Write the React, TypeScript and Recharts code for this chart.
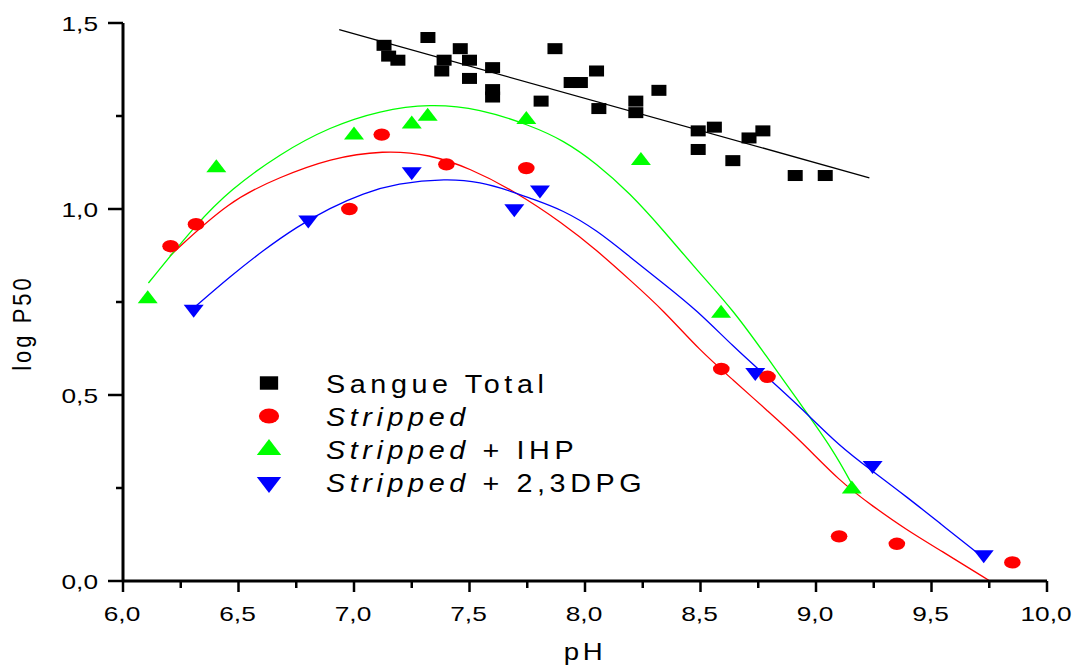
import { ComposedChart, Line, Scatter, XAxis, YAxis } from 'recharts'

// measured points
const sangueX = [7.13, 7.15, 7.19, 7.32, 7.39, 7.38, 7.46, 7.5, 7.5, 7.6, 7.6, 7.6, 7.81, 7.87, 7.94, 7.98, 8.05, 8.06, 8.22, 8.22, 8.32, 8.49, 8.49, 8.56, 8.64, 8.71, 8.77, 8.91, 9.04]
const sangueY = [1.44, 1.411, 1.4, 1.461, 1.4, 1.371, 1.431, 1.4, 1.351, 1.38, 1.321, 1.301, 1.29, 1.431, 1.34, 1.34, 1.371, 1.27, 1.29, 1.259, 1.319, 1.21, 1.16, 1.22, 1.13, 1.191, 1.21, 1.09, 1.09]

const strippedX = [6.206, 6.316, 6.98, 7.12, 7.4, 7.746, 8.59, 8.79, 9.1, 9.35, 9.85]
const strippedY = [0.9, 0.959, 1.0, 1.2, 1.12, 1.11, 0.57, 0.549, 0.12, 0.1, 0.05]

const ihpX = [6.107, 6.404, 7.0, 7.25, 7.319, 7.746, 8.242, 8.589, 9.155]
const ihpY = [0.764, 1.116, 1.204, 1.234, 1.255, 1.246, 1.136, 0.725, 0.253]

const dpgX = [6.306, 6.802, 7.25, 7.694, 7.805, 8.737, 9.245, 9.726]
const dpgY = [0.725, 0.965, 1.095, 0.995, 1.046, 0.555, 0.305, 0.065]

// fitted curves
const sangueFitX = [6.936, 9.231]
const sangueFitY = [1.482, 1.084]

const strippedFitX = [6.203, 6.463, 6.68, 6.896, 7.127, 7.329, 7.502, 7.69, 7.906, 8.051, 8.195, 8.339, 8.498, 8.642, 8.787, 8.931, 9.104, 9.248, 9.393, 9.537, 9.753]
const strippedFitY = [0.874, 1.024, 1.086, 1.136, 1.158, 1.147, 1.109, 1.05, 0.961, 0.889, 0.809, 0.728, 0.619, 0.54, 0.459, 0.379, 0.267, 0.2, 0.137, 0.083, 0.0]

const ihpFitX = [6.11, 6.319, 6.463, 6.68, 6.896, 7.113, 7.329, 7.545, 7.762, 7.906, 8.051, 8.195, 8.339, 8.484, 8.642, 8.787, 8.931, 9.075, 9.16]
const ihpFitY = [0.801, 0.961, 1.051, 1.149, 1.221, 1.265, 1.283, 1.27, 1.225, 1.185, 1.122, 1.042, 0.943, 0.836, 0.728, 0.603, 0.477, 0.352, 0.255]

const dpgFitX = [6.312, 6.463, 6.607, 6.752, 6.896, 7.04, 7.185, 7.401, 7.545, 7.69, 7.762, 7.906, 8.051, 8.195, 8.339, 8.484, 8.642, 8.787, 8.931, 9.104, 9.248, 9.393, 9.537, 9.71]
const dpgFitY = [0.737, 0.818, 0.889, 0.952, 1.003, 1.042, 1.069, 1.082, 1.073, 1.046, 1.029, 0.997, 0.943, 0.871, 0.8, 0.728, 0.63, 0.549, 0.468, 0.361, 0.294, 0.226, 0.155, 0.07]

const xTicks = [6, 6.25, 6.5, 6.75, 7, 7.25, 7.5, 7.75, 8, 8.25, 8.5, 8.75, 9, 9.25, 9.5, 9.75, 10]
const yTicks = [0, 0.25, 0.5, 0.75, 1, 1.25, 1.5]

const legendItems = [
  { italic: '', plain: 'Sangue Total', marker: 'square' },
  { italic: 'Stripped', plain: '', marker: 'circle' },
  { italic: 'Stripped', plain: ' + IHP', marker: 'up' },
  { italic: 'Stripped', plain: ' + 2,3DPG', marker: 'down' },
]

const zip = (xs: number[], ys: number[]) => xs.map((x, i) => ({ x, y: ys[i] }))

const FONT = '"Liberation Sans", Arial, sans-serif'

const isMajor = (v: number) => Math.abs(v * 2 - Math.round(v * 2)) < 1e-6
const fmt = (v: number) => v.toFixed(1).replace('.', ',')

function Marker({ kind, cx, cy, s = 1 }: { kind: string; cx: number; cy: number; s?: number }) {
  if (kind === 'square') {
    const w = 15 * s, h = 11 * s
    return <rect x={cx - w / 2} y={cy - h / 2} width={w} height={h} fill="#000" />
  }
  if (kind === 'circle') {
    return <ellipse cx={cx} cy={cy} rx={8.3 * s} ry={6.2 * s} fill="#ff0000" />
  }
  const w = 20 * s, h = 13 * s
  if (kind === 'up') {
    return <polygon points={`${cx - w / 2},${cy + h / 2} ${cx + w / 2},${cy + h / 2} ${cx},${cy - h / 2}`} fill="#00ff00" />
  }
  return <polygon points={`${cx - w / 2},${cy - h / 2} ${cx + w / 2},${cy - h / 2} ${cx},${cy + h / 2}`} fill="#0000ff" />
}

const XTick = ({ x, y, payload }: any) => {
  const major = isMajor(payload.value)
  return (
    <g>
      <line x1={x} y1={y} x2={x} y2={y + (major ? 11 : 7)} stroke="#000" strokeWidth={2.5} />
      {major && (
        <text transform={`translate(${x - 1},${y + 40}) scale(1.25,1)`} textAnchor="middle" fontSize={21} fontFamily={FONT} fill="#000">
          {fmt(payload.value)}
        </text>
      )}
    </g>
  )
}

const YTick = ({ x, y, payload }: any) => {
  const major = isMajor(payload.value)
  return (
    <g>
      <line x1={x - (major ? 15 : 7)} y1={y} x2={x} y2={y} stroke="#000" strokeWidth={2.5} />
      {major && (
        <text transform={`translate(98,${y + 8}) scale(1.25,1)`} textAnchor="end" fontSize={21} fontFamily={FONT} fill="#000">
          {fmt(payload.value)}
        </text>
      )}
    </g>
  )
}

const legendY = [383, 416, 447, 485]
const legendBase = [392.5, 425.8, 459.1, 492.4]

export default function App() {
  return (
    <div style={{ position: 'absolute', left: 0, top: 0, width: 1072, height: 667, background: '#fff' }}>
      <ComposedChart width={1072} height={667} margin={{ top: 23, right: 25, bottom: 0, left: 0 }}>
        <XAxis
          dataKey="x"
          type="number"
          domain={[6, 10]}
          ticks={xTicks}
          interval={0}
          tickSize={0}
          tickMargin={0}
          tickLine={false}
          tick={<XTick />}
          height={86}
          axisLine={{ stroke: '#000', strokeWidth: 3 }}
        />
        <YAxis
          dataKey="y"
          type="number"
          domain={[0, 1.5]}
          ticks={yTicks}
          interval={0}
          tickSize={0}
          tickMargin={0}
          tickLine={false}
          tick={<YTick />}
          width={123}
          axisLine={{ stroke: '#000', strokeWidth: 3 }}
        />
        <Line data={zip(sangueFitX, sangueFitY)} dataKey="y" type="linear" stroke="#000" strokeWidth={1.3} dot={false} activeDot={false} isAnimationActive={false} />
        <Line data={zip(strippedFitX, strippedFitY)} dataKey="y" type="basis" stroke="#ff0000" strokeWidth={1.3} dot={false} activeDot={false} isAnimationActive={false} />
        <Line data={zip(ihpFitX, ihpFitY)} dataKey="y" type="basis" stroke="#00ff00" strokeWidth={1.3} dot={false} activeDot={false} isAnimationActive={false} />
        <Line data={zip(dpgFitX, dpgFitY)} dataKey="y" type="basis" stroke="#0000ff" strokeWidth={1.3} dot={false} activeDot={false} isAnimationActive={false} />
        <Scatter data={zip(sangueX, sangueY)} isAnimationActive={false} shape={(p: any) => <Marker kind="square" cx={p.cx} cy={p.cy} />} />
        <Scatter data={zip(strippedX, strippedY)} isAnimationActive={false} shape={(p: any) => <Marker kind="circle" cx={p.cx} cy={p.cy} />} />
        <Scatter data={zip(ihpX, ihpY)} isAnimationActive={false} shape={(p: any) => <Marker kind="up" cx={p.cx} cy={p.cy} />} />
        <Scatter data={zip(dpgX, dpgY)} isAnimationActive={false} shape={(p: any) => <Marker kind="down" cx={p.cx} cy={p.cy} />} />
      </ComposedChart>
      <svg width={1072} height={667} style={{ position: 'absolute', left: 0, top: 0, pointerEvents: 'none' }}>
        <text transform="translate(585,660) scale(1.2,1)" textAnchor="middle" fontSize={23} fontFamily={FONT} letterSpacing={3} fill="#000">pH</text>
        <text transform="translate(31,323) rotate(-90) scale(1,1.15)" textAnchor="middle" fontSize={22} fontFamily={FONT} letterSpacing={3} fill="#000">log P50</text>
        {legendItems.map((it, i) => (
          <g key={i}>
            <Marker kind={it.marker} cx={269} cy={legendY[i]} s={1.22} />
            <text transform={`translate(326,${legendBase[i]}) scale(1.15,1)`} fontSize={25} fontFamily={FONT} letterSpacing={4} fill="#000">
              {it.italic && <tspan fontStyle="italic">{it.italic}</tspan>}
              {it.plain && <tspan>{it.plain}</tspan>}
            </text>
          </g>
        ))}
      </svg>
    </div>
  )
}
